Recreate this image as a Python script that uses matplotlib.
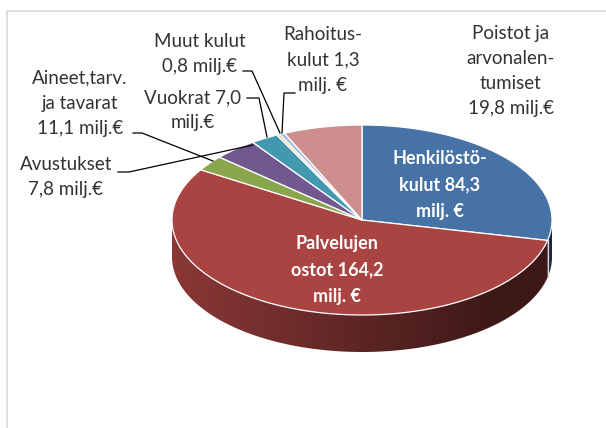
import numpy as np
import matplotlib
matplotlib.use("Agg")
import matplotlib.pyplot as plt
from matplotlib.patches import Polygon

plt.rcParams["font.family"] = ["Lato", "DejaVu Sans"]

# ── data ─────────────────────────────────────────────────────────────────────
categories = ["Henkilöstökulut", "Palvelujen ostot", "Avustukset",
              "Aineet, tarvikkeet ja tavarat", "Vuokrat", "Muut kulut",
              "Rahoituskulut", "Poistot ja arvonalentumiset"]
values = [84.3, 164.2, 7.8, 11.1, 7.0, 0.8, 1.3, 19.8]
labels = ["Henkilöstö-\nkulut 84,3\nmilj. €",
          "Palvelujen\nostot 164,2\nmilj. €",
          "Avustukset\n7,8 milj.€",
          "Aineet,tarv.\nja tavarat\n11,1 milj.€",
          "Vuokrat 7,0\nmilj.€",
          "Muut kulut\n0,8 milj.€",
          "Rahoitus-\nkulut 1,3\nmilj. €",
          "Poistot ja\narvonalen-\ntumiset\n19,8 milj.€"]
colors = ["#4672A6", "#A94442", "#89A54E", "#71588F",
          "#4198AF", "#F2C9A2", "#A9BEE0", "#CE8E8D"]

# ── layout (pixel space, y down) ─────────────────────────────────────────────
CX, CY, RX, RY, DEPTH = 362, 220, 190, 95, 37
label_pos = [(440, 185), (337, 270), (66, 177), (80, 103),
             (193, 110), (200, 54), (323, 60), (511, 71)]
inside = [True, True, False, False, False, False, False, False]
# leader lines: text end -> elbow -> slice
leaders = {
    2: [(118, 172), (129, 172), (253, 145)],
    3: [(133, 133), (142, 133), (213, 161)],
    4: [(247, 98), (259, 98), (267, 137)],
    5: [(243, 71), (252, 71), (280, 133)],
    6: [(295, 93), (284, 93), (282, 133)],
}

W, H = 606, 428
fig = plt.figure(figsize=(W / 100, H / 100), dpi=100)
ax = fig.add_axes([0, 0, 1, 1])
ax.set_xlim(0, W)
ax.set_ylim(H, 0)
ax.axis("off")

# chart frame (only top/left edges visible)
ax.plot([7, 7, W], [H, 11, 11], color="#D9D9D9", lw=1.2, zorder=0)


def rim(theta_deg, dy=0.0):
    t = np.radians(theta_deg)
    return CX + RX * np.cos(t), CY - RY * np.sin(t) + dy


def shade_factor(x):
    return 0.82 - 0.46 * np.clip((x - (CX - RX)) / (1.7 * RX), 0, 1)


total = sum(values)
spans = []
start = 90.0
for v in values:
    sweep = 360.0 * v / total
    spans.append((start - sweep, start))   # clockwise
    start -= sweep

# ── sides (front half only), horizontal gradient clipped to each wall ────────
gx = np.linspace(CX - RX, CX + RX, 400)
ext = (CX - RX, CX + RX, CY + RY + DEPTH + 2, CY - 2)
for (a0, a1), col in zip(spans, colors):
    lo, hi = a0 % 360, a1 % 360
    if hi <= lo:
        hi += 360
    lo_c, hi_c = max(lo, 180), min(hi, 360)
    if lo_c >= hi_c:
        continue
    th = np.linspace(lo_c, hi_c, 150)
    xs, ys = rim(th)
    wall = list(zip(xs, ys)) + list(zip(xs[::-1], ys[::-1] + DEPTH))
    patch = Polygon(wall, closed=True, fc="none", ec="none")
    ax.add_patch(patch)
    rgb = np.array(matplotlib.colors.to_rgb(col))
    img = (shade_factor(gx)[:, None] * rgb[None, :])[None, :, :]
    im = ax.imshow(np.repeat(img, 2, axis=0), extent=ext, aspect="auto",
                   interpolation="bilinear", zorder=1)
    im.set_clip_path(patch)
    for edge in (lo, hi):
        if 180 < edge % 360 < 360:
            x, y = rim(edge)
            ax.plot([x, x], [y, y + DEPTH], color="#D8D8D8", lw=0.8, zorder=2)

# ── top face ─────────────────────────────────────────────────────────────────
for (a0, a1), col in zip(spans, colors):
    th = np.linspace(a0, a1, max(3, int((a1 - a0) * 2)))
    xs, ys = rim(th)
    pts = [(CX, CY)] + list(zip(xs, ys))
    ax.add_patch(Polygon(pts, closed=True, fc=col, ec="white", lw=0.9,
                         zorder=3))

# ── labels ───────────────────────────────────────────────────────────────────
for i, txt in enumerate(labels):
    x, y = label_pos[i]
    if inside[i]:
        ax.text(x, y, txt, ha="center", va="center", color="white",
                fontsize=13, fontweight="bold", linespacing=1.66, zorder=5)
    else:
        ax.text(x, y, txt, ha="center", va="center", color="#333333",
                fontsize=13.5, linespacing=1.58, zorder=5)

for i, pts in leaders.items():
    xs, ys = zip(*pts)
    ax.plot(xs, ys, color="black", lw=0.9, zorder=4)

ax.set_xlim(0, W)
ax.set_ylim(H, 0)
fig.savefig("out.png", dpi=100)
